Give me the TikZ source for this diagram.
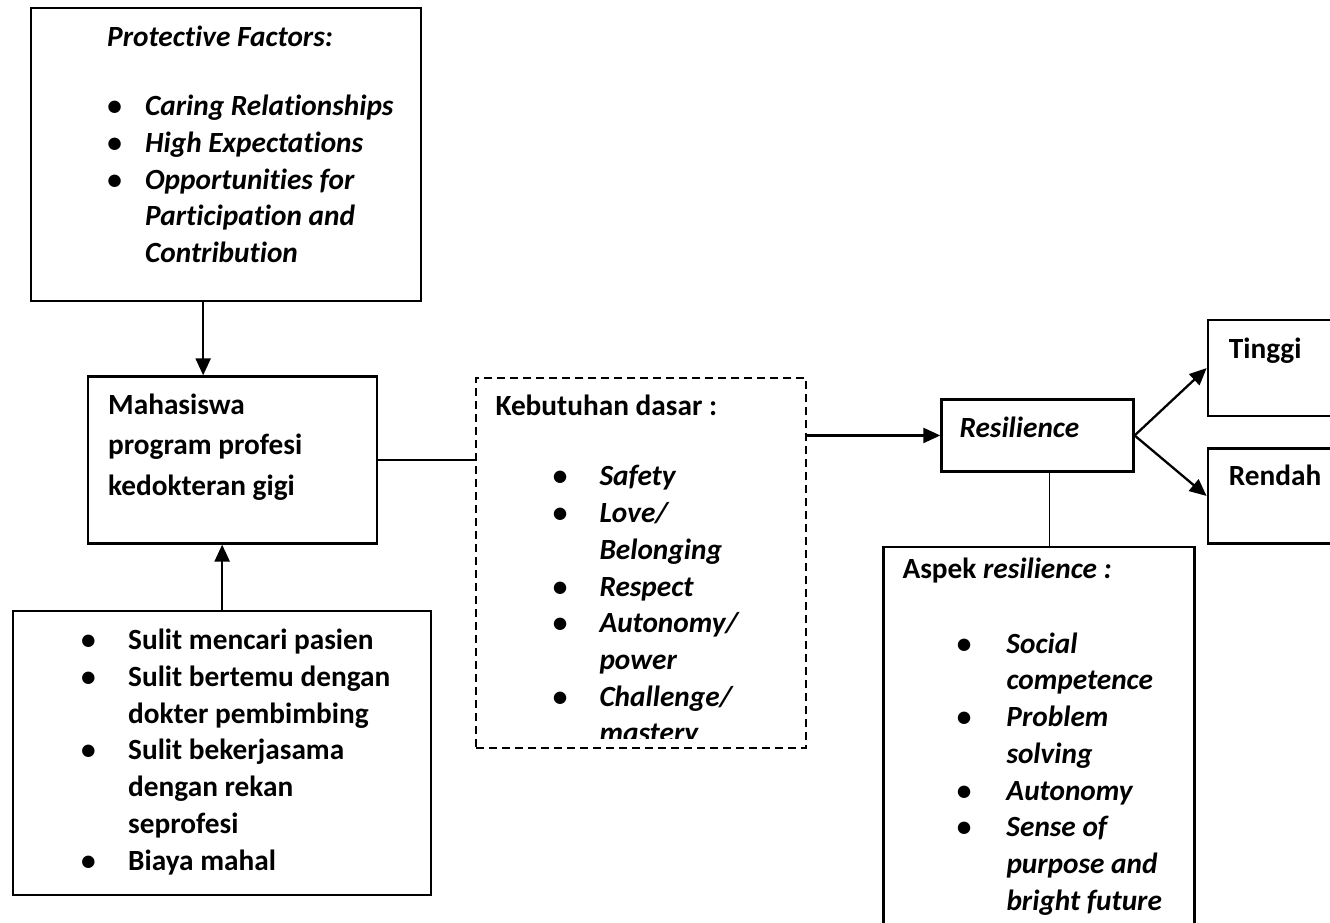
\documentclass[tikz,border=0pt]{standalone}
\usepackage{fontspec}
\setmainfont[Ligatures=NoCommon]{Carlito}
\usetikzlibrary{positioning, arrows.meta}

\newcommand{\diafont}{\fontsize{29.3pt}{36.7pt}\selectfont\bfseries}
\newcommand{\bul}[1]{\makebox[#1][l]{\textbullet}}
\newcommand{\tstrut}{\rule[-8pt]{0pt}{31.5pt}}

\begin{document}
\begin{tikzpicture}[x=1pt, y=-1pt, >={Triangle[length=17pt, width=15pt]},
    box/.style={draw, line width=2.3pt, inner sep=0pt, anchor=north west},
    dbox/.style={box, line width=2pt, dash pattern=on 8pt off 5pt},
    txt/.style={inner sep=0pt, align=left, font=\diafont},
    link/.style={line width=1.8pt},
    arr/.style={->, line width=2.3pt}]

    \useasboundingbox (0,0) rectangle (1330,922);
    \clip (0,0) rectangle (1330,922);

    % --- Protective factors ---
    \node [box, minimum width=390pt, minimum height=293pt] (protect) at (30,7) {};
    \node [txt, font=\diafont\itshape, below right=16pt and 77pt of protect.north west] (protect_head) {\tstrut Protective Factors:};
    \node [txt, font=\diafont\itshape, below right=37pt and 0pt of protect_head.south west] (protect_list) {\tstrut
        \bul{38pt}Caring Relationships \\
        \bul{38pt}High Expectations \\
        \bul{38pt}Opportunities for \\
        \hspace*{38pt}Participation and \\
        \hspace*{38pt}Contribution
    };

    % --- Mahasiswa ---
    \node [box, minimum width=289pt, minimum height=167pt, below right=73pt and 57pt of protect.south west] (mhs) {};
    \node [txt, font={\fontsize{29.3pt}{40.5pt}\selectfont\bfseries}, below right=15pt and 21pt of mhs.north west] (mhs_text) {\tstrut
        Mahasiswa \\
        program profesi \\
        kedokteran gigi
    };

    % --- Kesulitan ---
    \node [box, minimum width=418pt, minimum height=284pt, below right=65pt and -75pt of mhs.south west] (sulit) {};
    \node [txt, below right=16.5pt and 69pt of sulit.north west] (sulit_list) {\tstrut
        \bul{47pt}Sulit mencari pasien \\
        \bul{47pt}Sulit bertemu dengan \\
        \hspace*{47pt}dokter pembimbing \\
        \bul{47pt}Sulit bekerjasama \\
        \hspace*{47pt}dengan rekan \\
        \hspace*{47pt}seprofesi \\
        \bul{47pt}Biaya mahal
    };

    % --- Kebutuhan dasar ---
    \node [dbox, minimum width=330pt, minimum height=370pt, below right=2pt and 97pt of mhs.north east] (keb) {};
    \node [txt, below right=14.5pt and 20pt of keb.north west] (keb_head) {\tstrut Kebutuhan dasar :};
    \begin{scope}
        \clip (keb.north west) rectangle ([yshift=11pt]keb.south east);
        \node [txt, font=\diafont\itshape, below right=38.5pt and 57pt of keb_head.south west] (keb_list) {\tstrut
            \bul{47pt}Safety \\
            \bul{47pt}Love/ \\
            \hspace*{47pt}Belonging \\
            \bul{47pt}Respect \\
            \bul{47pt}Autonomy/ \\
            \hspace*{47pt}power \\
            \bul{47pt}Challenge/ \\
            \hspace*{47pt}mastery
        };
    \end{scope}

    % --- Resilience ---
    \node [box, minimum width=192pt, minimum height=72pt, below right=21pt and 133pt of keb.north east] (res) {};
    \node [txt, font=\diafont\itshape, below right=15.5pt and 19pt of res.north west] (res_text) {\tstrut Resilience};

    % --- Tinggi / Rendah ---
    \node [box, minimum width=128pt, minimum height=95pt, below right=49pt and 72pt of res.north east] (rendah) {};
    \node [txt, below right=14.5pt and 22pt of rendah.north west] (rendah_text) {\tstrut Rendah};
    \node [box, minimum width=128pt, minimum height=96pt, above=30pt of rendah] (tinggi) {};
    \node [txt, below right=15.5pt and 22pt of tinggi.north west] (tinggi_text) {\tstrut Tinggi};

    % --- Aspek resilience ---
    \node [box, minimum width=311pt, minimum height=390pt, below right=73pt and -58pt of res.south west] (aspek) {};
    \node [txt, below right=9pt and 20pt of aspek.north west] (aspek_head) {\tstrut Aspek \textit{resilience :}};
    \node [txt, font=\diafont\itshape, below right=43pt and 54pt of aspek_head.south west] (aspek_list) {\tstrut
        \bul{50pt}Social \\
        \hspace*{50pt}competence \\
        \bul{50pt}Problem \\
        \hspace*{50pt}solving \\
        \bul{50pt}Autonomy \\
        \bul{50pt}Sense of \\
        \hspace*{50pt}purpose and \\
        \hspace*{50pt}bright future
    };

    % Connect the nodes.
    \draw[arr] ([xshift=-23pt]protect.south) -- ([xshift=-23pt]protect.south |- mhs.north);
    \draw[arr] (sulit.north) -- (sulit.north |- mhs.south);
    \draw[link] (mhs.east) -- (mhs.east -| keb.west);
    \draw[arr] (keb.east |- res.west) -- (res.west);
    \draw[arr] (res.east) -- (tinggi.west);
    \draw[arr] (res.east) -- (rendah.west);
    \draw[link] ([xshift=12pt]res.south) -- ([xshift=12pt]res.south |- aspek.north);

\end{tikzpicture}
\end{document}
